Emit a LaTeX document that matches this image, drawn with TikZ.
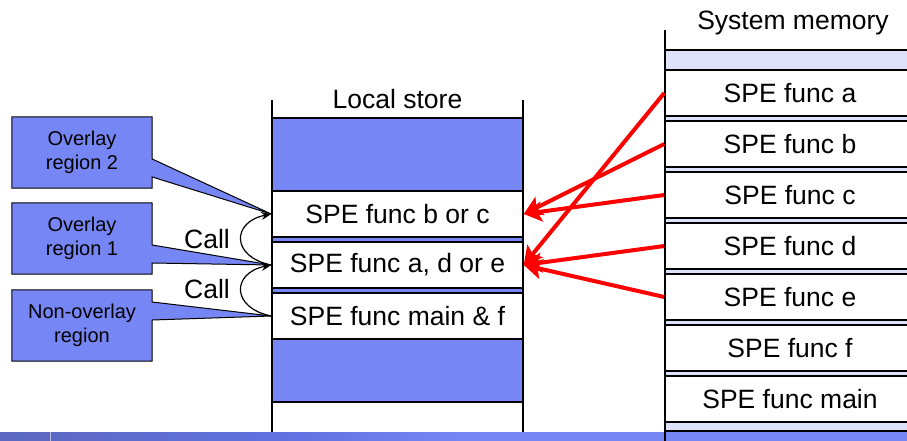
\documentclass[tikz,border=0pt]{standalone}
\usepackage{fontspec}
\setmainfont{Liberation Sans}
\usetikzlibrary{arrows.meta,backgrounds}

\definecolor{regionblue}{RGB}{119,134,245}
\definecolor{stripblue}{RGB}{221,226,250}
\definecolor{footdark}{RGB}{92,104,190}
\definecolor{footmid}{RGB}{98,114,228}
\definecolor{arrowred}{RGB}{255,0,0}

\tikzset{
  bigtext/.style={font=\fontsize{26.5}{30}\selectfont},
  lscell/.style={draw, fill=white, line width=1.5pt, minimum width=251pt,
    minimum height=46pt, inner sep=0pt, bigtext},
  smcell/.style={draw, fill=white, line width=1.5pt, minimum width=250pt,
    minimum height=46pt, inner sep=0pt, bigtext},
  callbox/.style={minimum width=140pt, minimum height=71pt, inner sep=0pt,
    align=center, font=\fontsize{20}{23.5}\selectfont},
  calloutshape/.style={draw, fill=regionblue, line width=1pt, line join=miter},
  loadarrow/.style={draw=arrowred, line width=4pt,
    -{Stealth[length=18pt,width=20pt,inset=4pt]}},
  callarrow/.style={draw, line width=1.2pt, -{Stealth[length=10pt,width=8pt]}},
}

\begin{document}
\begin{tikzpicture}[x=1pt,y=-1pt]
\useasboundingbox (0,0) rectangle (907,441);
\clip (0,0) rectangle (907,441);

% footer band
\shade[left color=footdark, right color=footmid] (0,432) rectangle (300,441);
\shade[left color=footmid, right color=regionblue] (300,432) rectangle (460,441);
\fill[regionblue] (460,432) rectangle (907,441);
\draw[white!55!footdark, line width=1pt] (50,432) -- (50,441);

% ---------- local store ----------
\node[bigtext] (lslabel) at (397.5,99) {Local store};
\draw[line width=1.5pt] (272,100) -- (272,432);
\draw[line width=1.5pt] (523,100) -- (523,432);
\draw[line width=1.5pt, fill=regionblue] (272,118) rectangle (523,402);
\node[lscell] (bc)  at (397.5,214) {SPE func b or c};
\node[lscell] (ade) at (397.5,265) {SPE func a, d or e};
\node[lscell] (mf)  at (397.5,316) {SPE func main \& f};

% ---------- system memory ----------
\node[bigtext] (smlabel) at (793,23) {System memory};
\draw[line width=1.5pt, fill=stripblue] (665,50) rectangle (915,431);
\node[smcell] (fa) at (790,93)  {SPE func a};
\node[smcell] (fb) at (790,144) {SPE func b};
\node[smcell] (fc) at (790,195) {SPE func c};
\node[smcell] (fd) at (790,246) {SPE func d};
\node[smcell] (fe) at (790,297) {SPE func e};
\node[smcell] (ff) at (790,348) {SPE func f};
\node[smcell] (fm) at (790,399) {SPE func main};
\draw[line width=1.5pt, fill=regionblue] (665,431) rectangle (915,446);
\draw[line width=1.5pt] (665,30) -- (665,441);

% ---------- overlay loads ----------
\draw[loadarrow] (fa.west) -- (ade.east);
\draw[loadarrow] (fb.west) -- (bc.east);
\draw[loadarrow] (fc.west) -- (bc.east);
\draw[loadarrow] (fd.west) -- (ade.east);
\draw[loadarrow] (fe.west) -- (ade.east);

% ---------- region callouts ----------
\node[callbox] (r2) at (82,152.5) {Overlay\\region 2};
\node[callbox] (r1) at (82,238.5) {Overlay\\region 1};
\node[callbox] (r0) at (82,325.5) {Non-overlay\\region};
\begin{scope}[on background layer]
  \filldraw[calloutshape] (r2.north west) -- (r2.north east)
    -- ([yshift=-6.5pt]r2.east) -- (bc.west) -- ([yshift=-24.5pt]r2.east)
    -- (r2.south east) -- (r2.south west) -- cycle;
  \filldraw[calloutshape] (r1.north west) -- (r1.north east)
    -- ([yshift=-6.5pt]r1.east) -- (ade.west) -- ([yshift=-24.5pt]r1.east)
    -- (r1.south east) -- (r1.south west) -- cycle;
  \filldraw[calloutshape] (r0.north west) -- (r0.north east)
    -- ([yshift=23.5pt]r0.east) -- (mf.west) -- ([yshift=5.5pt]r0.east)
    -- (r0.south east) -- (r0.south west) -- cycle;
\end{scope}

% ---------- calls ----------
\node[bigtext] (call1) at (207,239) {Call};
\node[bigtext] (call2) at (207,289) {Call};
\draw[callarrow] (ade.west) .. controls +(-40,-8) and +(-40,8) .. (bc.west);
\draw[callarrow] (mf.west) .. controls +(-40,-8) and +(-40,8) .. (ade.west);
\end{tikzpicture}
\end{document}
